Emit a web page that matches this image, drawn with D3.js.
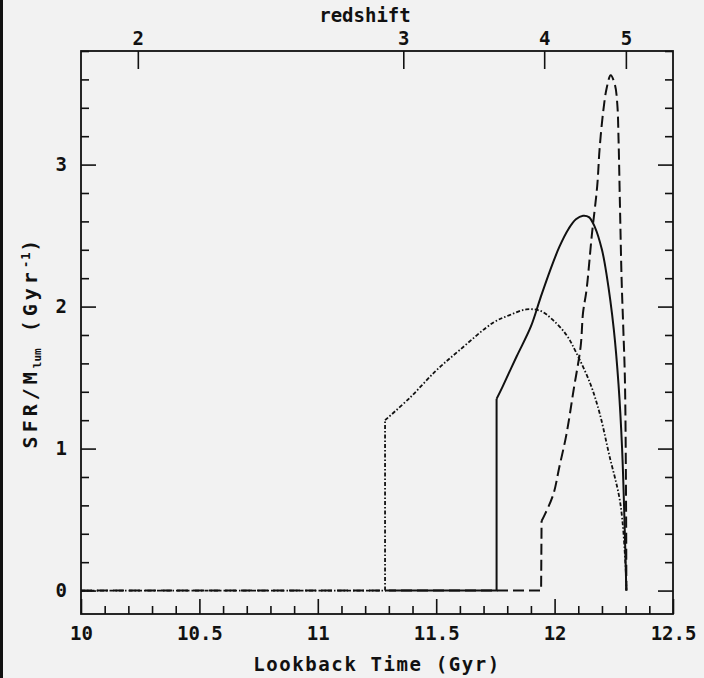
<!DOCTYPE html>
<html>
<head>
<meta charset="utf-8">
<script src="https://cdn.jsdelivr.net/npm/d3@7"></script>
<style>
  html, body { margin: 0; padding: 0; background: #f2f2f2; }
  svg { display: block; }
  text { font-family: "DejaVu Sans Mono", monospace; font-weight: bold; fill: #111; }
</style>
</head>
<body>
<svg id="chart" width="704" height="678"></svg>
<script>
// ---- data ----
const xTicksMajor = [10, 10.5, 11, 11.5, 12, 12.5];
const xTickLabels = ["10", "10.5", "11", "11.5", "12", "12.5"];
const yTicksMajor = [0, 1, 2, 3];
const yTickLabels = ["0", "1", "2", "3"];
const redshiftLabels = ["2", "3", "4", "5"];
const redshiftLookback = [10.24, 11.361, 11.956, 12.301];

// dash-dot (dotted) model
const dotT = [10, 11.284, 11.284, 11.39, 11.50, 11.60, 11.74, 11.81, 11.88, 11.94, 11.99, 12.05, 12.09, 12.15, 12.19, 12.23, 12.277, 12.30, 12.303];
const dotV = [0, 0, 1.20, 1.36, 1.55, 1.695, 1.886, 1.94, 1.98, 1.97, 1.91, 1.80, 1.68, 1.46, 1.25, 0.96, 0.62, 0.16, 0];

// solid model
const solT = [11.30, 11.755, 11.755, 11.78, 11.84, 11.90, 11.94, 11.98, 12.02, 12.06, 12.09, 12.12, 12.145, 12.17, 12.20, 12.22, 12.25, 12.27, 12.285, 12.295, 12.303];
const solV = [0, 0, 1.35, 1.435, 1.65, 1.86, 2.06, 2.25, 2.42, 2.55, 2.615, 2.64, 2.63, 2.56, 2.40, 2.22, 1.84, 1.45, 1.00, 0.50, 0];

// dashed model
const dasT = [10, 11.943, 11.945, 11.96, 11.995, 12.02, 12.05, 12.08, 12.11, 12.12, 12.135, 12.157, 12.18, 12.19, 12.205, 12.22, 12.237, 12.255, 12.265, 12.27, 12.276, 12.283, 12.290, 12.297, 12.302, 12.303];
const dasV = [0, 0, 0.49, 0.54, 0.68, 0.87, 1.10, 1.41, 1.72, 1.955, 2.12, 2.50, 2.85, 3.11, 3.37, 3.54, 3.63, 3.56, 3.42, 3.18, 2.71, 2.19, 1.85, 1.48, 0.54, 0];

// ---- layout ----
const svg = d3.select("#chart");
const L = 81, R = 673, T = 51, B = 614;
const x = d3.scaleLinear().domain([10, 12.5]).range([L, R]);
const y = d3.scaleLinear().domain([-0.165, 3.8]).range([B, T]);

svg.append("rect").attr("x", 0).attr("y", 0).attr("width", 704).attr("height", 678).attr("fill", "#f2f2f2");
svg.append("rect").attr("x", 0).attr("y", 0).attr("width", 3).attr("height", 678).attr("fill", "#111");

const MAJ = 15, MIN = 8;
const xMinor = d3.range(101, 125).map(d => d / 10).filter(d => !xTicksMajor.some(m => Math.abs(m - d) < 1e-6));
const yMinor = d3.range(1, 20).map(d => d / 5).filter(d => !yTicksMajor.some(m => Math.abs(m - d) < 1e-6));

// bottom axis (ticks inward)
const gBottom = svg.append("g").attr("transform", `translate(0,${B})`);
gBottom.call(d3.axisBottom(x).tickValues(xTicksMajor).tickSizeInner(-MAJ).tickSizeOuter(0).tickPadding(13)
  .tickFormat((d, i) => xTickLabels[i]));
gBottom.append("g").call(d3.axisBottom(x).tickValues(xMinor).tickSizeInner(-MIN).tickSizeOuter(0).tickFormat(""));

// left axis
const gLeft = svg.append("g").attr("transform", `translate(${L},0)`);
gLeft.call(d3.axisLeft(y).tickValues(yTicksMajor).tickSizeInner(-MAJ).tickSizeOuter(0).tickPadding(14)
  .tickFormat((d, i) => yTickLabels[i]));
gLeft.append("g").call(d3.axisLeft(y).tickValues(yMinor).tickSizeInner(-MIN).tickSizeOuter(0).tickFormat(""));

// right axis
const gRight = svg.append("g").attr("transform", `translate(${R},0)`);
gRight.call(d3.axisRight(y).tickValues(yTicksMajor).tickSizeInner(-MAJ).tickSizeOuter(0).tickFormat(""));
gRight.append("g").call(d3.axisRight(y).tickValues(yMinor).tickSizeInner(-MIN).tickSizeOuter(0).tickFormat(""));

// top redshift axis
const gTop = svg.append("g").attr("transform", `translate(0,${T})`);
gTop.call(d3.axisTop(x).tickValues(redshiftLookback).tickSizeInner(-18).tickSizeOuter(0).tickPadding(6)
  .tickFormat((d, i) => redshiftLabels[i]));

svg.selectAll(".domain").remove();
svg.selectAll(".tick line").attr("stroke", "#111").attr("stroke-width", 1.6);
svg.selectAll(".tick text").style("font-size", "19px").style("font-family", "DejaVu Sans Mono, monospace").style("font-weight", "bold").attr("fill", "#111");

// frame
svg.append("rect").attr("x", L).attr("y", T).attr("width", R - L).attr("height", B - T)
  .attr("fill", "none").attr("stroke", "#111").attr("stroke-width", 1.8);

// curves
const zipped = (a, b) => a.map((v, i) => [v, b[i]]);
const stepLine = d3.line().x(d => x(d[0])).y(d => y(d[1]));
const smoothLine = d3.line().x(d => x(d[0])).y(d => y(d[1])).curve(d3.curveCatmullRom.alpha(0.5));

svg.append("clipPath").attr("id", "clip").append("rect")
  .attr("x", L).attr("y", T).attr("width", R - L).attr("height", B - T);
const gCurves = svg.append("g").attr("clip-path", "url(#clip)");

function drawSeries(ts, vs, width, dash) {
  const pts = zipped(ts, vs);
  // baseline + vertical onset (straight), then the smooth rise and fall
  [stepLine(pts.slice(0, 3)), smoothLine(pts.slice(2))].forEach(d => {
    const p = gCurves.append("path").attr("d", d)
      .attr("fill", "none").attr("stroke", "#111").attr("stroke-width", width);
    if (dash) p.attr("stroke-dasharray", dash);
  });
}
drawSeries(dasT, dasV, 2, "11,5");
drawSeries(dotT, dotV, 1.8, "4,2,1.5,2");
drawSeries(solT, solV, 2, null);

// axis titles
svg.append("text").attr("x", (L + R) / 2).attr("y", 671).attr("text-anchor", "middle")
  .style("font-size", "19px").style("letter-spacing", "1.6px").text("Lookback Time (Gyr)");
svg.append("text").attr("x", 365).attr("y", 22).attr("text-anchor", "middle")
  .style("font-size", "19px").text("redshift");

const yl = svg.append("text").attr("transform", "translate(37,342) rotate(-90)").attr("text-anchor", "middle")
  .style("font-size", "20px").style("letter-spacing", "4px");
yl.append("tspan").text("SFR/M");
yl.append("tspan").attr("dy", 4).style("font-size", "11px").style("letter-spacing", "0px").text("lum");
yl.append("tspan").attr("dy", -4).text(" (Gyr");
yl.append("tspan").attr("dy", -7).style("font-size", "12px").style("letter-spacing", "1px").text("-1");
yl.append("tspan").attr("dy", 7).text(")");
</script>
</body>
</html>
